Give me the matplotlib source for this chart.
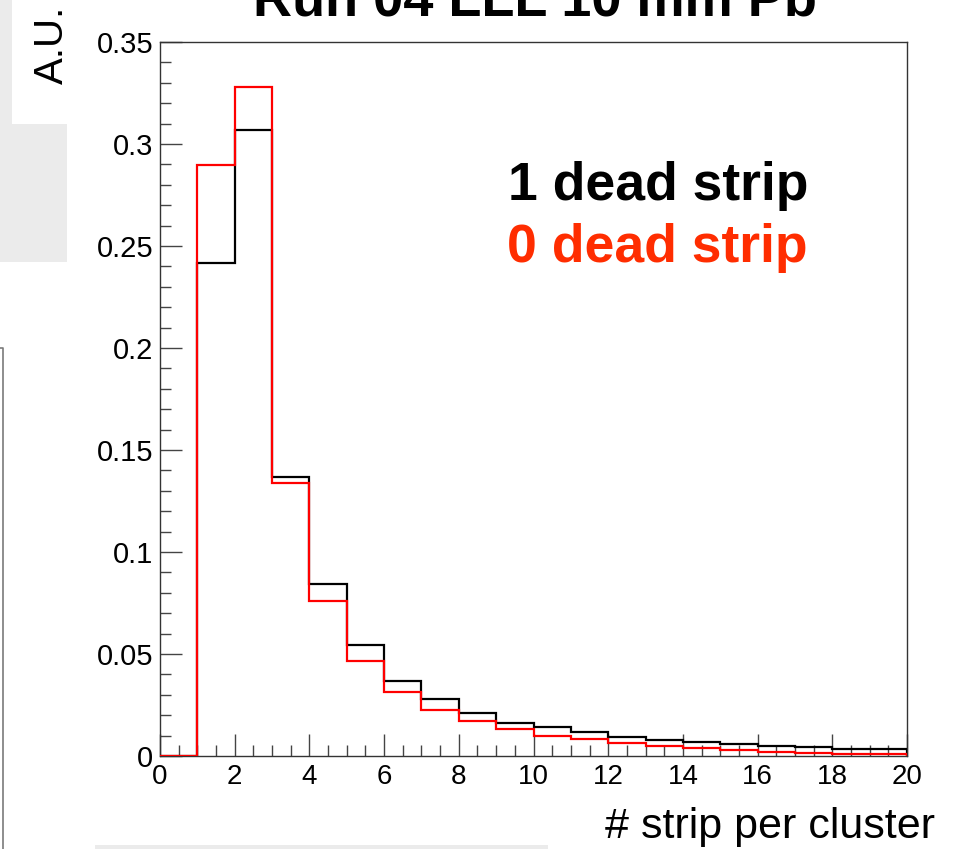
import numpy as np
import matplotlib
matplotlib.use("Agg")
import matplotlib.pyplot as plt
from matplotlib.patches import Rectangle
from matplotlib.ticker import MultipleLocator

plt.rcParams['font.family'] = ['Liberation Sans', 'DejaVu Sans']

# ---- data ----
bin_edges = np.arange(0, 21)
one_dead = [0.0, 0.2418, 0.3070, 0.1370, 0.0845, 0.0542, 0.0370, 0.0280, 0.0212, 0.0162,
            0.0144, 0.0120, 0.0095, 0.0080, 0.0068, 0.0059, 0.0051, 0.0045, 0.0036, 0.0032]
zero_dead = [0.0, 0.2897, 0.3280, 0.1340, 0.0758, 0.0468, 0.0316, 0.0226, 0.0172, 0.0130,
             0.0100, 0.0081, 0.0063, 0.0050, 0.0038, 0.0029, 0.0022, 0.0017, 0.0012, 0.0009]
y_ticks = [0, 0.05, 0.1, 0.15, 0.2, 0.25, 0.3, 0.35]
y_ticklabels = ["0", "0.05", "0.1", "0.15", "0.2", "0.25", "0.3", "0.35"]
x_ticks = [0, 2, 4, 6, 8, 10, 12, 14, 16, 18, 20]
title = "Run 04 LLL 10 mm Pb"
xlabel = "# strip per cluster"
ylabel = "A.U."
labels = ["1 dead strip", "0 dead strip"]

W, H = 968, 849
fig = plt.figure(figsize=(W / 100, H / 100), dpi=100)

def fx(px):
    return px / W

def fy(py):
    return 1 - py / H

# background decorations of the slide screenshot
grey = '#ebebeb'
fig.patches.append(Rectangle((fx(0), fy(262)), fx(12), 262 / H, transform=fig.transFigure,
                             facecolor=grey, edgecolor='none', zorder=0))
fig.patches.append(Rectangle((fx(0), fy(262)), fx(67), 138 / H, transform=fig.transFigure,
                             facecolor=grey, edgecolor='none', zorder=0))
fig.patches.append(Rectangle((fx(95), fy(849)), fx(453), 4 / H, transform=fig.transFigure,
                             facecolor=grey, edgecolor='none', zorder=0))
fig.lines.append(plt.Line2D([fx(0), fx(3), fx(3)], [fy(348), fy(348), fy(849)],
                            transform=fig.transFigure, color='#7a7a7a', lw=1.2))

ax = fig.add_axes([fx(160), fy(756), fx(907) - fx(160), (756 - 42) / H])

ax.stairs(one_dead, bin_edges, color='black', lw=1.6, zorder=3)
ax.stairs(zero_dead, bin_edges, color='#ff0000', lw=1.6, zorder=4)

ax.set_xlim(0, 20)
ax.set_ylim(0, 0.35)

ax.set_yticks(y_ticks)
ax.set_yticklabels(y_ticklabels)
ax.yaxis.set_minor_locator(MultipleLocator(0.01))
ax.set_xticks(x_ticks)
ax.set_xticklabels([str(v) for v in x_ticks])
ax.xaxis.set_minor_locator(MultipleLocator(0.5))

ax.tick_params(axis='both', which='major', direction='in', length=16, width=1,
               color='#444444', top=False, right=False)
ax.tick_params(axis='both', which='minor', direction='in', length=8, width=1,
               color='#444444', top=False, right=False)
ax.tick_params(axis='y', which='major', pad=5, labelsize=21)
ax.tick_params(axis='x', which='major', pad=6, labelsize=20)

for s in ax.spines.values():
    s.set_linewidth(1.0)
    s.set_color('#333333')

# title (cut off at top)
fig.text(fx(535), fy(16), title, ha='center', va='baseline', fontsize=39,
         fontweight='bold', color='black')
# axis titles
fig.text(fx(935), fy(838), xlabel, ha='right', va='baseline', fontsize=31, color='black')
fig.text(fx(71), fy(6), ylabel, ha='right', va='top', rotation=90, fontsize=29, color='black')

# legend texts
fig.text(fx(808), fy(200), labels[0], ha='right', va='baseline', fontsize=38.5,
         fontweight='bold', color='black')
fig.text(fx(808), fy(262), labels[1], ha='right', va='baseline', fontsize=38.5,
         fontweight='bold', color='#ff2d00')

fig.savefig('out.png', dpi=100)
